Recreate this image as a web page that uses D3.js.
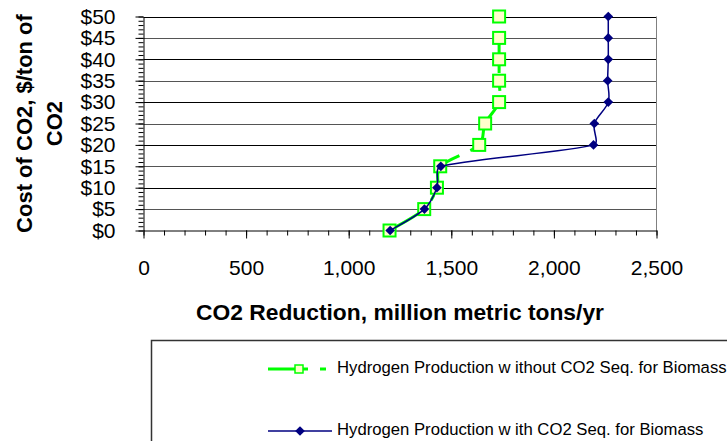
<!DOCTYPE html>
<html>
  <head>
    <meta charset="utf-8" />
    <title>CO2 Reduction Cost</title>
    <script src="https://d3js.org/d3.v7.min.js"></script>
    <style>
      body { margin: 0; background: #fff; }
      svg { display: block; font-family: "Liberation Sans", Arial, sans-serif; }
    </style>
  </head>

  <body>
    <svg id="viz"></svg>

    <script>
        // cost levels, $/ton of CO2
        var costs = [0, 5, 10, 15, 20, 25, 30, 35, 40, 45, 50];
        // CO2 reduction, million metric tons/yr
        var withoutSeq = [1199, 1368, 1430, 1446, 1636, 1665, 1733, 1733, 1733, 1733, 1733];
        var withSeq = [1202, 1369, 1430, 1449, 2193, 2197, 2265, 2262, 2265, 2265, 2265];
        var xTicks = [0, 500, 1000, 1500, 2000, 2500];
        var yTicks = [0, 5, 10, 15, 20, 25, 30, 35, 40, 45, 50];
        var seriesNames = [
            "Hydrogen Production w ithout CO2 Seq. for Biomass",
            "Hydrogen Production w ith CO2 Seq. for Biomass"
        ];

        var width = 727;
        var height = 441;

        var svg = d3.select("#viz")
            .attr("width", width)
            .attr("height", height);

        var x = d3.scaleLinear().domain([0, 2500]).range([143.5, 656.5]);
        var y = d3.scaleLinear().domain([0, 50]).range([230.5, 16.5]);

        // gridlines
        svg.append("g").selectAll("line")
            .data(yTicks.filter(function(d) { return d > 0; }))
            .enter().append("line")
            .attr("x1", x(0)).attr("x2", x(2500))
            .attr("y1", function(d) { return Math.round(y(d)) + 0.5; })
            .attr("y2", function(d) { return Math.round(y(d)) + 0.5; })
            .attr("stroke", function(d, i) { return i % 2 ? "#000" : "#555"; })
            .attr("stroke-width", 1);

        // right border of plot area
        svg.append("line")
            .attr("x1", x(2500)).attr("x2", x(2500))
            .attr("y1", y(50)).attr("y2", y(0))
            .attr("stroke", "#808080");

        // minor ticks
        svg.append("g")
            .attr("transform", "translate(" + x(0) + ",0)")
            .call(d3.axisLeft(y).tickValues(d3.range(0, 51, 1)).tickSize(5).tickSizeOuter(0).tickFormat(""))
            .call(function(g) { g.select(".domain").remove(); });

        svg.append("g")
            .attr("transform", "translate(0," + y(0) + ")")
            .call(d3.axisBottom(x).tickValues(d3.range(0, 2501, 100)).tickSize(5).tickSizeOuter(0).tickFormat(""))
            .call(function(g) { g.select(".domain").remove(); });

        // major axes
        svg.append("g")
            .attr("transform", "translate(" + x(0) + ",0)")
            .call(d3.axisLeft(y).tickValues(yTicks).tickSize(8).tickSizeOuter(0).tickPadding(20)
                .tickFormat(function(d) { return "$" + d; }));

        svg.append("g")
            .attr("transform", "translate(0," + y(0) + ")")
            .call(d3.axisBottom(x).tickValues(xTicks).tickSize(8).tickSizeOuter(0).tickPadding(22)
                .tickFormat(d3.format(",")));

        svg.selectAll(".tick text")
            .attr("fill", "#000")
            .style("font-size", "21px")
            .style("font-family", "'Liberation Sans', Arial, sans-serif");
        svg.selectAll(".tick line").attr("stroke", "#000");
        svg.selectAll(".domain").attr("stroke", "#000");

        // axis titles
        svg.append("text")
            .attr("x", (x(0) + x(2500)) / 2)
            .attr("y", 320)
            .attr("text-anchor", "middle")
            .style("font-size", "22.8px")
            .style("font-weight", "bold")
            .text("CO2 Reduction, million metric tons/yr");

        var yTitle = svg.append("text")
            .attr("transform", "translate(0," + (y(0) + y(50)) / 2 + ") rotate(-90)")
            .attr("text-anchor", "middle")
            .style("font-size", "22px")
            .style("font-weight", "bold");
        yTitle.append("tspan").attr("x", 0).attr("y", 32).text("Cost of CO2, $/ton of");
        yTitle.append("tspan").attr("x", 0).attr("y", 62).text("CO2");

        // Excel-like smoothing: catmull-rom tangents, capped to a third of each segment
        function smoothLine(data) {
            var pts = data.map(function(d) { return [x(d[0]), y(d[1])]; });
            var p = d3.path();
            p.moveTo(pts[0][0], pts[0][1]);
            function tangent(a, b, cap) {
                var t = [(b[0] - a[0]) / 6, (b[1] - a[1]) / 6];
                var len = Math.hypot(t[0], t[1]);
                if (len > cap) { t[0] *= cap / len; t[1] *= cap / len; }
                return t;
            }
            for (var i = 0; i < pts.length - 1; i++) {
                var p0 = pts[i - 1] || pts[i];
                var p1 = pts[i];
                var p2 = pts[i + 1];
                var p3 = pts[i + 2] || p2;
                var cap = Math.hypot(p2[0] - p1[0], p2[1] - p1[1]) / 3;
                var t1 = tangent(p0, p2, cap);
                var t2 = tangent(p1, p3, cap);
                p.bezierCurveTo(p1[0] + t1[0], p1[1] + t1[1], p2[0] - t2[0], p2[1] - t2[1], p2[0], p2[1]);
            }
            return p.toString();
        }

        var greenPts = withoutSeq.map(function(v, i) { return [v, costs[i]]; });
        var bluePts = withSeq.map(function(v, i) { return [v, costs[i]]; });

        var green = "#00ff00";
        var navy = "#000080";
        var dash = "40,12,6,12";

        var diamond = d3.symbol().type(d3.symbolDiamond2).size(60);

        // series without sequestration
        svg.append("path")
            .datum(greenPts)
            .attr("d", smoothLine)
            .attr("fill", "none")
            .attr("stroke", green)
            .attr("stroke-width", 3)
            .attr("stroke-dasharray", dash);

        svg.append("g").selectAll("rect")
            .data(greenPts)
            .enter().append("rect")
            .attr("x", function(d) { return x(d[0]) - 6; })
            .attr("y", function(d) { return y(d[1]) - 6; })
            .attr("width", 12)
            .attr("height", 12)
            .attr("fill", "#ffffcc")
            .attr("stroke", green)
            .attr("stroke-width", 2);

        // series with sequestration
        svg.append("path")
            .datum(bluePts)
            .attr("d", smoothLine)
            .attr("fill", "none")
            .attr("stroke", navy)
            .attr("stroke-width", 1.5);

        svg.append("g").selectAll("path")
            .data(bluePts)
            .enter().append("path")
            .attr("transform", function(d) { return "translate(" + x(d[0]) + "," + y(d[1]) + ")"; })
            .attr("d", diamond)
            .attr("fill", navy);

        // legend
        var legend = svg.append("g");
        legend.append("rect")
            .attr("x", 151.5).attr("y", 340.5)
            .attr("width", 700).attr("height", 200)
            .attr("fill", "#fff")
            .attr("stroke", "#333")
            .attr("stroke-width", 1.5);

        legend.append("line")
            .attr("x1", 268).attr("x2", 332)
            .attr("y1", 369).attr("y2", 369)
            .attr("stroke", green)
            .attr("stroke-width", 3)
            .attr("stroke-dasharray", dash);
        legend.append("rect")
            .attr("x", 295).attr("y", 365)
            .attr("width", 8).attr("height", 8)
            .attr("fill", "#ffffcc")
            .attr("stroke", green)
            .attr("stroke-width", 1.5);

        legend.append("line")
            .attr("x1", 268).attr("x2", 332)
            .attr("y1", 431).attr("y2", 431)
            .attr("stroke", navy)
            .attr("stroke-width", 1.5);
        legend.append("path")
            .attr("transform", "translate(300,431)")
            .attr("d", diamond)
            .attr("fill", navy);

        legend.selectAll("text.label")
            .data(seriesNames)
            .enter().append("text")
            .attr("class", "label")
            .attr("x", 337)
            .attr("y", function(d, i) { return i === 0 ? 373 : 435; })
            .style("font-size", "16.7px")
            .text(function(d) { return d; });
    </script>
  </body>
</html>
